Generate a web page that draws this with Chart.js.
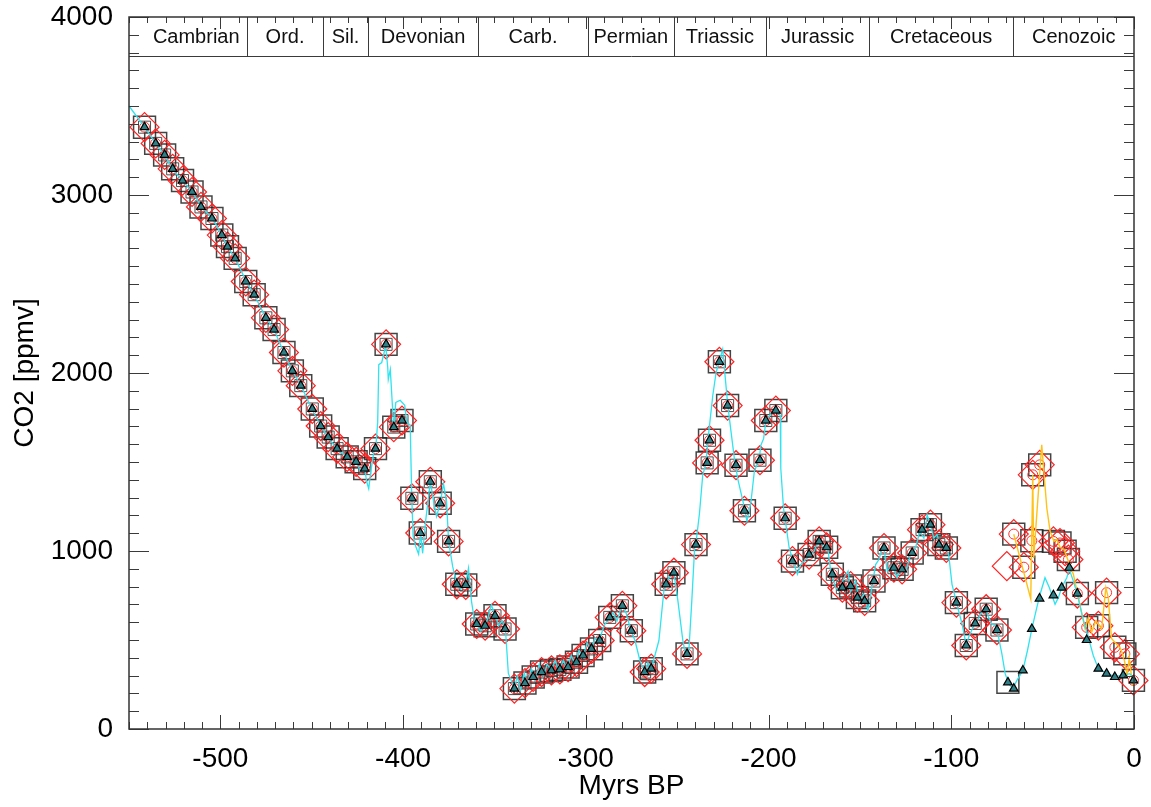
<!DOCTYPE html>
<html>
<head>
<meta charset="utf-8">
<script src="https://cdn.jsdelivr.net/npm/chart.js@4/dist/chart.umd.min.js"></script>
<style>
  body { margin: 0; background: #fff; }
  #wrap { width: 1151px; height: 807px; }
</style>
</head>
<body>
<div id="wrap"><canvas id="co2Chart"></canvas></div>
<script>
// proxy points before the Cenozoic (square, diamond, circle and triangle)
const pzAge = [-541.5, -535.4, -530.5, -526.1, -520.7, -515.5, -510.6, -504.6, -499.2, -496.1,
  -491.9, -486.1, -481.5, -475.1, -470.6, -465.2, -460.6, -456.0, -449.7, -445.1,
  -441.0, -436.1, -430.6, -425.7, -421.0, -415.1, -409.3, -405.1, -400.6, -395.2,
  -390.6, -385.1, -379.7, -375.1, -370.6, -365.7, -359.7, -355.1, -349.7, -344.2,
  -339.1, -333.3, -328.8, -324.2, -318.8, -314.2, -309.7, -305.1, -301.5, -296.9,
  -292.4, -286.9, -280.0, -275.1, -267.8, -264.2, -256.0, -251.8, -244.6, -239.7,
  -233.6, -232.3, -226.9, -222.4, -217.8, -213.2, -204.7, -201.5, -196.0, -190.9,
  -186.9, -177.8, -172.3, -168.2, -165.1, -159.6, -155.1, -151.4, -147.4, -142.3,
  -136.8, -131.4, -126.9, -121.4, -116.0, -111.4, -106.8, -102.7, -97.2, -91.8,
  -86.9, -80.9, -75.0];
const pzCo2 = [3381, 3290, 3225, 3147, 3081, 3017, 2933, 2868, 2775, 2710,
  2644, 2514, 2440, 2310, 2244, 2115, 2012, 1929, 1798, 1702,
  1640, 1575, 1529, 1501, 1463, 1575, 2161, 1696, 1733, 1296,
  1101, 1389, 1268, 1054, 813, 809, 590, 580, 636, 562,
  227, 258, 292, 320, 329, 335, 348, 375, 413, 450,
  497, 627, 692, 552, 320, 339, 813, 878, 422, 1036,
  1495, 1622, 2063, 1817, 1482, 1226, 1510, 1733, 1789, 1184,
  943, 980, 1054, 1021, 869, 794, 803, 738, 720, 831,
  1017, 906, 897, 989, 1120, 1148, 1036, 1017, 710, 469,
  593, 673, 556];

// Cenozoic proxy points (square, diamond, circle)
const czAge = [-65.8, -60.3, -55.9, -55.4, -51.6, -44.1, -40.5, -37.7, -35.9, -31.0, -25.9, -19.5, -15.0, -10.5, -5.0, -0.3];
const czCo2 = [1095, 909, 1058, 1428, 1484, 1054, 1045, 999, 952, 761, 571, 580, 766, 459, 422, 273];

// Cenozoic triangles
const czTriAge = [-69.0, -65.8, -60.8, -55.9, -51.7, -44.1, -39.6, -35.4, -31.0, -25.9, -19.5, -15.0, -10.5, -5.9, -0.3];
const czTriCo2 = [262, 227, 329, 562, 733, 751, 794, 906, 761, 500, 339, 311, 292, 301, 273];

// single extra marks
const squareOnlyAge = [-69.0];
const squareOnlyCo2 = [262];
const diamondOnlyAge = [-69.6];
const diamondOnlyCo2 = [915];

// cyan curve
const lineAge = [-550, -541.5, -535.5, -530.6, -526.3, -520.8, -515.4, -510.4, -504.4, -499.0,
  -496.3, -491.9, -485.9, -481.5, -475.0, -470.6, -465.2, -460.8, -455.9, -449.9,
  -445.0, -441.2, -436.2, -430.8, -425.9, -423.1, -421.0, -419.9, -418.8, -417.7,
  -416.0, -415.0, -413.9, -413.3, -411.7, -409.5, -408.4, -408.1, -407.0, -405.1,
  -404.0, -401.6, -399.1, -398.0, -396.1, -395.3, -394.5, -393.1, -391.5, -390.4,
  -389.3, -387.7, -385.1, -383.3, -381.7, -379.7, -377.9, -376.2, -375.1, -372.9,
  -370.8, -368.6, -365.9, -364.2, -362.6, -360.9, -359.9, -357.7, -354.9, -352.8,
  -351.7, -349.5, -347.8, -345.7, -344.0, -342.4, -339.1, -337.5, -335.8, -333.7,
  -332.0, -329.8, -327.7, -325.5, -323.3, -321.1, -318.9, -316.7, -314.6, -312.4,
  -310.2, -308.0, -305.8, -303.7, -301.5, -299.3, -297.1, -294.9, -292.7, -290.0,
  -287.3, -285.1, -282.9, -280.2, -278.0, -275.3, -273.1, -270.4, -267.6, -266.0,
  -264.4, -262.2, -260.0, -257.3, -256.2, -254.0, -251.8, -249.6, -246.9, -245.3,
  -243.6, -242.0, -240.4, -239.8, -237.8, -236.0, -234.2, -233.3, -230.5, -228.7,
  -225.1, -223.8, -222.3, -220.5, -218.7, -216.9, -213.6, -211.8, -209.6, -207.8,
  -205.1, -204.2, -202.7, -201.5, -199.6, -196.0, -193.6, -193.3, -191.8, -190.5,
  -188.7, -186.0, -184.2, -182.4, -177.8, -175.0, -172.3, -169.6, -167.8, -166.0,
  -163.3, -161.4, -158.7, -156.5, -155.1, -152.3, -150.5, -147.8, -145.6, -143.8,
  -141.4, -139.6, -137.2, -135.0, -132.3, -129.6, -127.4, -125.1, -122.3, -119.6,
  -117.2, -115.0, -113.2, -111.4, -109.6, -107.8, -105.6, -103.2, -101.4, -99.6,
  -96.9, -94.1, -92.3, -91.8, -90.5, -87.7, -85.9, -84.1, -81.4, -79.6,
  -77.8, -76.0, -74.1, -72.3, -70.5, -68.6, -66.3, -64.1, -60.8, -58.3,
  -55.9, -53.2, -51.4, -48.7, -46.3, -43.2, -41.4, -39.6, -36.8, -35.4,
  -33.2, -31.0, -28.1, -25.0, -22.3, -19.5, -15.0, -10.5, -5.9, -2.3, 0];
const lineCo2 = [3500, 3381, 3292, 3225, 3147, 3080, 3018, 2935, 2868, 2773,
  2711, 2644, 2516, 2438, 2310, 2243, 2114, 2014, 1930, 1796,
  1702, 1640, 1573, 1529, 1501, 1445, 1462, 1389, 1350, 1445,
  1557, 1573, 1724, 2047, 2059, 2153, 2031, 1964, 2020, 1685,
  1835, 1847, 1819, 1724, 1707, 1317, 1082, 1027, 982, 1099,
  987, 1166, 1389, 1278, 1194, 1266, 1378, 1278, 1054, 915,
  815, 787, 809, 904, 720, 608, 591, 552, 580, 653,
  697, 636, 580, 608, 563, 312, 229, 296, 218, 318,
  245, 340, 273, 363, 296, 363, 329, 385, 318, 385,
  340, 413, 363, 441, 402, 485, 441, 513, 497, 580,
  625, 653, 608, 692, 653, 552, 497, 385, 318, 374,
  329, 413, 497, 775, 815, 859, 876, 720, 497, 413,
  441, 720, 1027, 1038, 1212, 1428, 1491, 1612, 1875, 2003,
  2133, 1985, 1818, 1668, 1519, 1408, 1261, 1166, 1278, 1445,
  1519, 1594, 1631, 1724, 1761, 1798, 1761, 1463, 1240, 1148,
  1017, 924, 869, 924, 971, 999, 1073, 1017, 1036, 887,
  794, 775, 850, 887, 775, 831, 720, 757, 664, 775,
  924, 952, 1036, 887, 924, 850, 924, 877, 980, 1017,
  1110, 1073, 1203, 1148, 1073, 1092, 1017, 1036, 980, 813,
  701, 590, 497, 469, 515, 580, 599, 645, 682, 627,
  590, 580, 515, 422, 311, 255, 227, 273, 329, 441,
  562, 682, 757, 850, 794, 701, 738, 794, 850, 897,
  831, 757, 627, 515, 413, 339, 311, 296, 301, 311, 283];

// orange curve (Cenozoic)
const orangeAge = [-65.8, -56.5, -55.4, -54.9, -50.5, -49.2, -47.7, -45.9, -43.8, -42.3,
  -40.5, -38.3, -35.9, -33.2, -31.0, -26.8, -25.0, -23.2, -20.8, -17.7,
  -15.4, -14.1, -12.3, -9.9, -7.4, -5.6, -3.7, -2.6, -0.8];
const orangeCo2 = [1094, 731, 1428, 960, 1596, 1428, 1240, 1110, 1054, 1065,
  1021, 1010, 943, 870, 766, 563, 625, 543, 608, 563,
  794, 738, 508, 480, 452, 403, 301, 403, 245];

// geologic periods
const periodNames = ['Cambrian', 'Ord.', 'Sil.', 'Devonian', 'Carb.', 'Permian', 'Triassic', 'Jurassic', 'Cretaceous', 'Cenozoic'];
const periodStart = [-541, -485.4, -443.8, -419.2, -358.9, -298.9, -251.9, -201.3, -145, -66];
const periodEnd = [-485.4, -443.8, -419.2, -358.9, -298.9, -251.9, -201.3, -145, -66, 0];
const bandBottom = 3780;

const xTicks = [-500, -400, -300, -200, -100, 0];
const yTicks = [0, 1000, 2000, 3000, 4000];

const FONT = '"Liberation Sans", Arial, Helvetica, sans-serif';

const pts = (xs, ys) => xs.map((v, i) => ({ x: v, y: ys[i] }));

// IDL-like frame with inward ticks and the period band on top
const framePlugin = {
  id: 'frame',
  afterDatasetsDraw(chart) {
    const { ctx, chartArea: a, scales: { x, y } } = chart;
    ctx.save();
    ctx.strokeStyle = '#3a3a3a';
    ctx.lineWidth = 1;
    ctx.beginPath();
    for (let v = -550; v <= 0; v += 10) {
      const px = Math.round(x.getPixelForValue(v)) + 0.5;
      const major = v % 100 === 0;
      ctx.moveTo(px, a.bottom); ctx.lineTo(px, a.bottom - (major ? 14 : 7));
      ctx.moveTo(px, a.top); ctx.lineTo(px, a.top + (major ? 12 : 6));
    }
    for (let v = 0; v <= 4000; v += 100) {
      const py = Math.round(y.getPixelForValue(v)) + 0.5;
      const major = v % 1000 === 0;
      ctx.moveTo(a.left, py); ctx.lineTo(a.left + (major ? 20 : 10), py);
      ctx.moveTo(a.right, py); ctx.lineTo(a.right - (major ? 20 : 10), py);
    }
    ctx.stroke();

    // period band
    const yb = Math.round(y.getPixelForValue(bandBottom)) + 0.5;
    ctx.beginPath();
    ctx.moveTo(a.left, yb); ctx.lineTo(a.right, yb);
    periodStart.slice(1).forEach(v => {
      const px = Math.round(x.getPixelForValue(v)) + 0.5;
      ctx.moveTo(px, a.top); ctx.lineTo(px, yb);
    });
    ctx.stroke();

    ctx.fillStyle = '#111';
    ctx.font = '20px ' + FONT;
    ctx.textAlign = 'center';
    ctx.textBaseline = 'middle';
    periodNames.forEach((name, i) => {
      const cx = (x.getPixelForValue(periodStart[i]) + x.getPixelForValue(periodEnd[i])) / 2;
      ctx.fillText(name, cx, (a.top + yb) / 2 + 1);
    });

    ctx.lineWidth = 1.5;
    ctx.strokeStyle = '#333';
    ctx.strokeRect(a.left, a.top, a.right - a.left, a.bottom - a.top);
    ctx.restore();
  }
};

const markerBase = { showLine: false, clip: false, pointHoverRadius: 0, backgroundColor: 'transparent' };

new Chart(document.getElementById('co2Chart'), {
  type: 'scatter',
  data: {
    datasets: [
      {
        ...markerBase,
        label: 'triangles',
        data: pts(pzAge, pzCo2).concat(pts(czTriAge, czTriCo2)),
        pointStyle: 'triangle', pointRadius: 5,
        backgroundColor: '#2f7f86', borderColor: '#000', borderWidth: 1.2,
        order: 0
      },
      {
        label: 'model',
        data: pts(lineAge, lineCo2),
        showLine: true, pointRadius: 0, borderColor: '#2fe3ef', borderWidth: 1.3,
        tension: 0, clip: false, order: 1
      },
      {
        label: 'orange',
        data: pts(orangeAge, orangeCo2),
        showLine: true, pointRadius: 0, borderColor: '#ffc21a', borderWidth: 1.4,
        tension: 0, clip: false, order: 2
      },
      {
        ...markerBase,
        label: 'circles',
        data: pts(pzAge, pzCo2).concat(pts(czAge, czCo2)),
        pointStyle: 'circle', pointRadius: 5,
        borderColor: '#ff3030', borderWidth: 1,
        order: 3
      },
      {
        ...markerBase,
        label: 'inner squares',
        data: pts(pzAge, pzCo2),
        pointStyle: 'rect', pointRadius: 8.5,
        borderColor: 'rgba(60,60,60,0.9)', borderWidth: 1,
        order: 4
      },
      {
        ...markerBase,
        label: 'diamonds',
        data: pts(pzAge, pzCo2).concat(pts(czAge, czCo2), pts(diamondOnlyAge, diamondOnlyCo2)),
        pointStyle: 'rectRot', pointRadius: 14.5,
        borderColor: '#ff2222', borderWidth: 1.2,
        order: 5
      },
      {
        ...markerBase,
        label: 'squares',
        data: pts(pzAge, pzCo2).concat(pts(czAge, czCo2), pts(squareOnlyAge, squareOnlyCo2)),
        pointStyle: 'rect', pointRadius: 15.5,
        borderColor: 'rgba(35,35,35,0.85)', borderWidth: 1.5,
        order: 6
      }
    ]
  },
  options: {
    animation: false,
    responsive: true,
    maintainAspectRatio: false,
    layout: { padding: { top: 12, right: 13.5, left: 0, bottom: 0 } },
    plugins: { legend: { display: false }, tooltip: { enabled: false } },
    events: [],
    scales: {
      x: {
        type: 'linear', min: -550, max: 0,
        afterBuildTicks: s => { s.ticks = xTicks.map(v => ({ value: v })); },
        afterFit: s => { s.height = 78; s.paddingLeft = 0; s.paddingRight = 0; },
        grid: { display: false }, border: { display: false },
        ticks: { font: { size: 28, family: FONT }, color: '#000', padding: 5, maxRotation: 0, autoSkip: false, callback: v => String(v) },
        title: { display: true, text: 'Myrs BP', font: { size: 28, family: FONT }, color: '#000', padding: { top: 0, bottom: 4 } }
      },
      y: {
        type: 'linear', min: 0, max: 4000,
        afterBuildTicks: s => { s.ticks = yTicks.map(v => ({ value: v })); },
        afterFit: s => { s.width = 129; s.paddingTop = 0; s.paddingBottom = 0; },
        grid: { display: false }, border: { display: false },
        ticks: { font: { size: 28, family: FONT }, color: '#000', padding: 8, autoSkip: false, callback: v => String(v) },
        title: { display: true, text: 'CO2 [ppmv]', font: { size: 28, family: FONT }, color: '#000', padding: { top: 8, bottom: 0 } }
      }
    }
  },
  plugins: [framePlugin]
});
</script>
</body>
</html>
